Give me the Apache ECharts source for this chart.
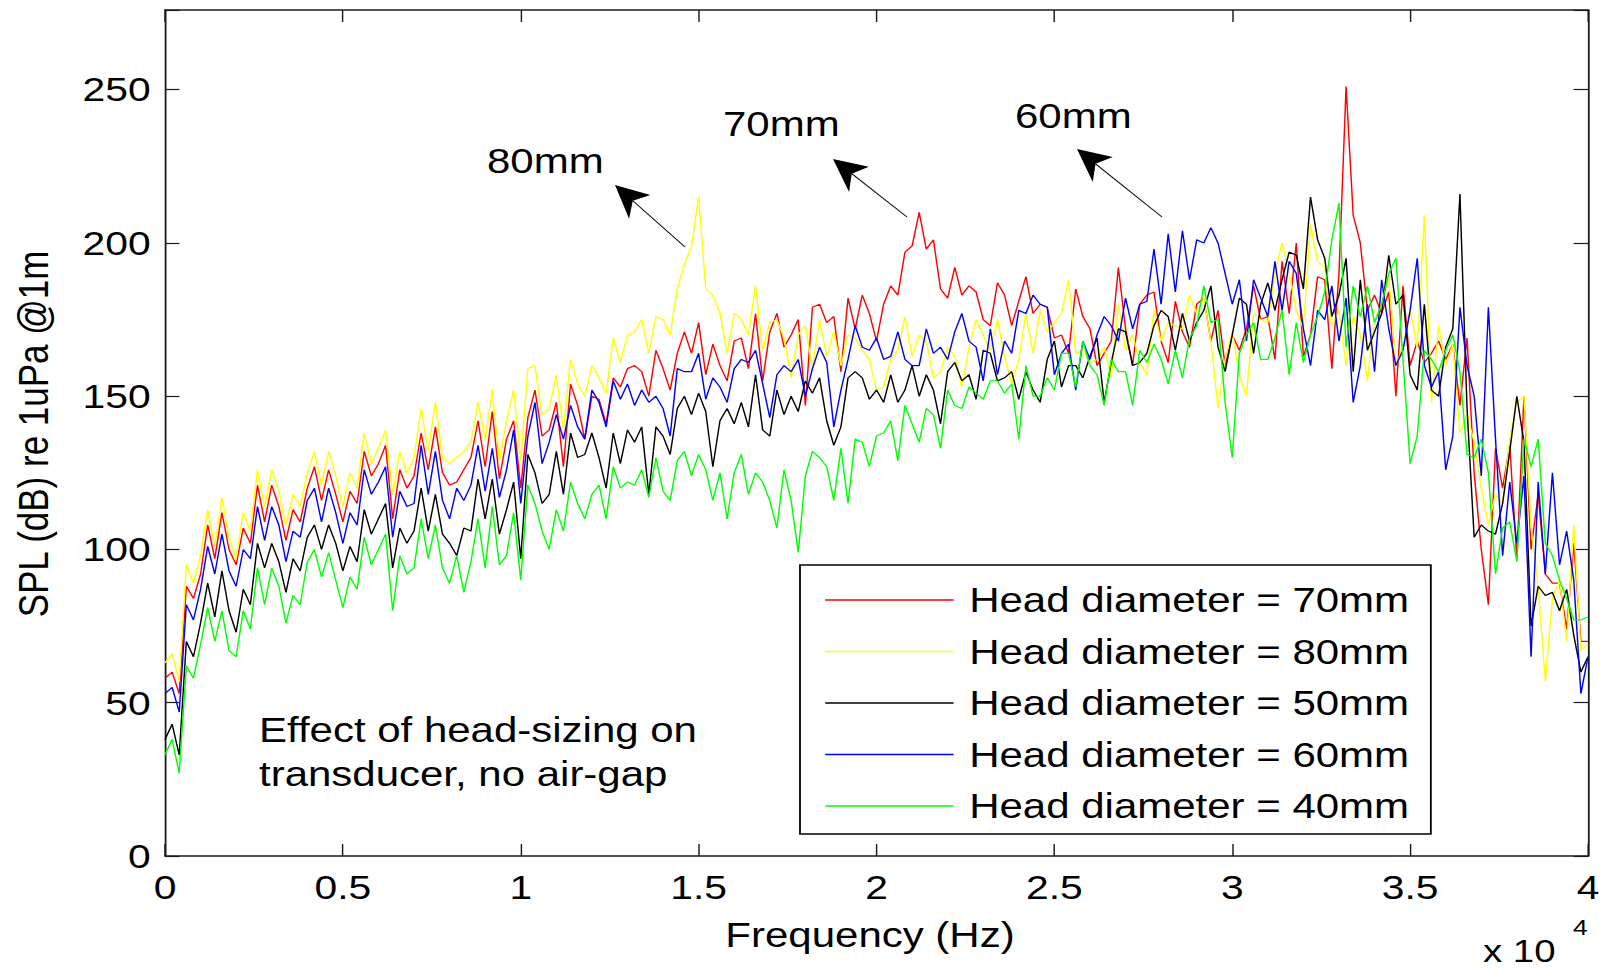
<!DOCTYPE html>
<html>
<head>
<meta charset="utf-8">
<script src="https://cdn.jsdelivr.net/npm/echarts@6.0.0/dist/echarts.min.js"></script>
<style>
html, body { margin: 0; padding: 0; background: #fff; overflow: hidden; }
/* the original picture is stretched sideways by about 1.2 */
#main { width: 1340px; height: 969px; transform: scaleX(1.2); transform-origin: 0 0; }
</style>
</head>
<body>
<div id="main"></div>
<script>
var SX = 1.2;
var FONT = "'Liberation Sans', Arial, Helvetica, sans-serif";

// frequency grid: one sample every 200 Hz, 0 .. 40000 Hz
var freqStep = 200;

var seriesNames = [
    'Head diameter = 70mm',
    'Head diameter = 80mm',
    'Head diameter = 50mm',
    'Head diameter = 60mm',
    'Head diameter = 40mm'
];
var seriesColors = ['#ff0000', '#ffff00', '#000000', '#0000ff', '#00ff00'];

var xTicks = [0, 5000, 10000, 15000, 20000, 25000, 30000, 35000, 40000];
var yTicks = [0, 50, 100, 150, 200, 250];

// SPL (dB re 1uPa @1m)
var spl70 = [58,60,53,88,84,92,108,97,112,100,
    95,107,102,121,109,121,114,103,113,109,
    120,127,116,126,118,109,119,115,132,124,
    128,134,110,126,120,124,138,126,140,125,
    121,122,126,130,142,127,145,123,136,142,
    120,143,152,137,139,148,127,154,147,136,
    150,149,141,156,153,159,160,158,150,165,
    159,152,164,171,164,174,157,167,160,155,
    168,169,159,177,155,171,177,166,170,175,
    147,179,180,174,176,158,182,172,183,177,
    168,180,186,183,197,199,210,198,201,185,
    182,192,183,186,184,175,173,187,183,173,
    181,189,177,180,179,169,170,164,185,176,
    172,160,164,168,192,172,160,180,183,184,
    168,161,181,171,166,180,182,168,178,160,
    170,165,172,186,175,176,162,194,177,200,
    163,170,189,188,159,190,251,209,200,178,
    183,177,184,150,186,160,168,161,164,168,
    162,167,147,169,125,100,82,133,120,134,
    97,150,100,118,92,89,89,74,102,70,
    70];

var spl80 = [63,66,57,95,89,98,113,101,117,104,
    97,112,106,126,114,126,119,108,118,114,
    125,132,121,132,124,114,125,120,138,128,
    133,139,118,132,125,130,146,132,148,130,
    128,130,132,135,148,136,152,129,142,152,
    129,159,160,144,146,157,139,162,154,150,
    160,156,151,169,161,170,171,175,164,176,
    175,170,185,193,199,215,185,183,177,164,
    177,175,170,186,165,174,175,169,156,170,
    173,159,175,163,171,160,170,169,165,162,
    152,153,162,165,176,163,170,168,156,158,
    166,163,153,166,175,170,165,175,163,154,
    162,177,164,178,171,174,177,188,164,165,
    161,162,166,156,180,165,170,161,157,178,
    168,174,173,172,183,177,182,168,146,162,
    171,157,150,177,175,174,190,200,190,178,
    172,206,194,192,173,178,160,176,170,155,
    175,180,189,160,166,178,166,209,148,173,
    160,167,138,144,135,120,108,118,115,136,
    148,150,107,88,57,84,90,70,108,67,
    69];

var spl50 = [38,43,33,70,65,76,89,78,93,80,
    73,87,82,102,94,102,96,86,97,93,
    104,108,100,108,102,93,101,96,113,105,
    110,115,94,107,102,106,120,106,118,105,
    102,98,107,106,123,110,123,105,113,122,
    97,131,125,115,118,132,118,138,130,131,
    138,130,120,138,128,139,135,140,118,140,
    137,131,146,150,144,151,145,127,142,146,
    141,148,140,157,139,137,152,144,150,145,
    155,151,156,142,134,140,156,158,156,149,
    152,148,157,148,152,160,150,157,152,141,
    158,161,155,157,149,165,164,155,156,158,
    149,158,152,148,162,168,153,160,160,156,
    163,169,148,161,172,171,160,161,164,173,
    178,176,165,177,168,174,178,186,166,158,
    170,182,180,164,180,187,178,188,197,196,
    185,215,201,195,176,183,195,158,188,165,
    171,177,196,180,183,157,152,180,152,150,
    166,172,216,146,104,108,106,105,115,132,
    150,135,75,88,85,86,80,87,72,60,
    65];

var spl60 = [53,55,47,82,77,87,101,92,105,93,
    88,100,97,114,103,114,108,96,106,104,
    116,120,109,120,112,102,112,108,126,118,
    122,127,104,119,114,115,134,118,132,116,
    110,120,116,121,134,119,133,117,126,139,
    115,137,148,128,135,144,136,147,140,136,
    152,148,140,155,149,154,147,152,148,150,
    146,137,159,158,158,164,149,156,153,148,
    159,162,161,165,154,143,157,160,158,162,
    150,159,166,161,140,152,162,173,166,165,
    169,162,163,171,162,160,160,172,164,166,
    162,171,177,168,166,155,172,157,168,164,
    178,177,183,180,179,157,164,167,152,168,
    162,170,176,173,168,182,172,180,181,198,
    180,203,184,204,188,201,200,205,200,190,
    180,188,168,188,182,176,194,178,194,190,
    172,160,178,175,186,168,182,148,160,180,
    158,188,172,160,165,178,195,160,153,158,
    126,137,179,160,150,124,179,136,98,122,
    102,124,65,122,92,125,95,106,90,53,
    65];

var spl40 = [33,38,27,62,58,69,81,70,80,67,
    65,80,74,94,82,94,88,76,85,82,
    96,100,91,99,90,81,91,87,104,95,
    100,105,80,98,92,94,110,97,108,94,
    89,98,86,96,110,94,114,95,98,112,
    90,121,115,106,100,113,106,122,115,110,
    118,121,110,127,120,122,121,126,117,130,
    119,116,129,132,124,131,126,116,125,110,
    125,131,118,125,122,116,107,126,116,99,
    124,132,130,127,116,133,115,136,135,127,
    137,138,142,129,147,141,135,146,144,133,
    152,147,146,153,151,149,155,155,151,154,
    136,160,150,150,156,152,164,164,153,168,
    160,157,147,162,158,158,147,165,161,167,
    162,154,165,156,169,173,186,174,175,148,
    130,164,170,174,162,162,169,178,157,174,
    161,170,176,184,201,213,166,186,176,186,
    174,180,190,195,162,128,137,165,162,158,
    165,170,158,131,130,136,125,92,107,109,
    96,136,127,136,102,98,90,84,77,77,
    78];

var allSpl = [spl70, spl80, spl50, spl60, spl40];

function toPairs(vals) {
    return vals.map(function (v, i) { return [i * freqStep, v]; });
}

// page pixel -> chart pixel (undo the sideways stretch)
function px(x) { return x / SX; }

function arrow(tail, tip) {
    var dx = tip[0] - tail[0], dy = tip[1] - tail[1];
    var len = Math.sqrt(dx * dx + dy * dy);
    var ux = dx / len, uy = dy / len;
    var nx = -uy, ny = ux;
    var L = 33, W = 16;
    var bx = tip[0] - ux * L, by = tip[1] - uy * L;
    var kx = tip[0] - ux * L * 0.72, ky = tip[1] - uy * L * 0.72;
    var pts = [[tip[0], tip[1]], [bx + nx * W, by + ny * W], [kx, ky], [bx - nx * W, by - ny * W]];
    return [{
        type: 'line',
        shape: { x1: px(tail[0]), y1: tail[1], x2: px(kx), y2: ky },
        style: { stroke: '#000', lineWidth: 1 }
    }, {
        type: 'polygon',
        shape: { points: pts.map(function (p) { return [px(p[0]), p[1]]; }) },
        style: { fill: '#000' }
    }];
}

function label(text, x, y, size, align) {
    return {
        type: 'text',
        x: px(x),
        y: y,
        style: {
            text: text,
            fontFamily: FONT,
            fontSize: size,
            fill: '#000',
            textAlign: align || 'left',
            textVerticalAlign: 'middle'
        }
    };
}

var myChart = echarts.init(document.getElementById('main'), null, { renderer: 'svg' });

var axisLineStyle = { color: '#1a1a1a', width: 1.5 };
var tickStyle = { color: '#1a1a1a', width: 1.2 };

var graphics = [
    label('80mm', 487, 161, 35),
    label('70mm', 723, 124, 35),
    label('60mm', 1015, 116, 35),
    {
        type: 'text',
        x: px(259),
        y: 752,
        style: {
            text: 'Effect of head-sizing on\ntransducer, no air-gap',
            fontFamily: FONT, fontSize: 35, lineHeight: 44, fill: '#000',
            textAlign: 'left', textVerticalAlign: 'middle'
        }
    },
    label('Frequency (Hz)', 870, 935, 35, 'center'),
    label('x 10', 1483, 951, 32),
    label('4', 1573, 927, 22),
    {
        type: 'text',
        x: px(33),
        y: 434,
        rotation: Math.PI / 2,
        style: {
            text: 'SPL (dB) re 1uPa @1m',
            fontFamily: FONT, fontSize: 35, fill: '#000',
            textAlign: 'center', textVerticalAlign: 'middle'
        }
    }
];
graphics = graphics.concat(arrow([685, 247], [615, 185]));
graphics = graphics.concat(arrow([907, 217], [833, 159]));
graphics = graphics.concat(arrow([1162, 217], [1077, 149]));

var option = {
    backgroundColor: '#ffffff',
    animation: false,
    textStyle: { fontFamily: FONT },
    grid: {
        left: px(165),
        top: 10,
        width: px(1588 - 165),
        height: 846,
        outerBoundsMode: 'none'
    },
    legend: {
        data: seriesNames,
        orient: 'vertical',
        left: px(800),
        top: 565,
        padding: [15, 18, 8, 21],
        icon: 'rect',
        itemWidth: 107,
        itemHeight: 1.3,
        itemGap: 11.5,
        selectedMode: false,
        backgroundColor: '#ffffff',
        borderColor: '#000000',
        borderWidth: 1.5,
        borderRadius: 0,
        textStyle: {
            fontFamily: FONT,
            fontSize: 35,
            lineHeight: 40,
            color: '#000',
            padding: [0, 0, 0, 8]
        }
    },
    xAxis: [{
        type: 'value',
        min: 0,
        max: 40000,
        interval: 5000,
        axisLine: { show: true, onZero: false, lineStyle: axisLineStyle },
        axisTick: { show: true, inside: true, length: 12, lineStyle: tickStyle },
        splitLine: { show: false },
        axisLabel: {
            margin: 14,
            fontSize: 34,
            fontFamily: FONT,
            color: '#000',
            formatter: function (v) {
                return xTicks.indexOf(v) >= 0 ? String(v / 10000) : '';
            }
        }
    }, {
        type: 'value',
        position: 'top',
        min: 0,
        max: 40000,
        interval: 5000,
        axisLine: { show: true, onZero: false, lineStyle: axisLineStyle },
        axisTick: { show: true, inside: true, length: 12, lineStyle: tickStyle },
        splitLine: { show: false },
        axisLabel: { show: false }
    }],
    yAxis: [{
        type: 'value',
        min: 0,
        max: 276,
        interval: 50,
        axisLine: { show: true, onZero: false, lineStyle: axisLineStyle },
        axisTick: { show: true, inside: true, length: 12, lineStyle: tickStyle },
        splitLine: { show: false },
        axisLabel: {
            margin: 12,
            fontSize: 34,
            fontFamily: FONT,
            color: '#000',
            formatter: function (v) {
                return yTicks.indexOf(v) >= 0 ? String(v) : '';
            }
        }
    }, {
        type: 'value',
        position: 'right',
        min: 0,
        max: 276,
        interval: 50,
        axisLine: { show: true, onZero: false, lineStyle: axisLineStyle },
        axisTick: { show: true, inside: true, length: 12, lineStyle: tickStyle },
        splitLine: { show: false },
        axisLabel: { show: false }
    }],
    series: seriesNames.map(function (name, k) {
        return {
            name: name,
            type: 'line',
            xAxisIndex: 0,
            yAxisIndex: 0,
            data: toPairs(allSpl[k]),
            showSymbol: false,
            symbol: 'none',
            color: seriesColors[k],
            itemStyle: { color: seriesColors[k] },
            lineStyle: { color: seriesColors[k], width: 1.2 },
            emphasis: { disabled: true }
        };
    }),
    graphic: graphics
};

myChart.setOption(option);
</script>
</body>
</html>
